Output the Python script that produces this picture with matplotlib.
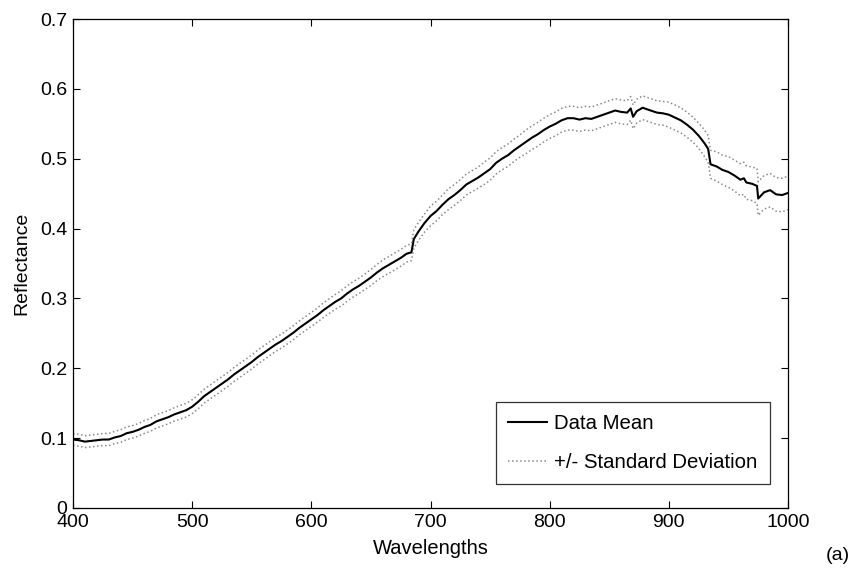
import matplotlib
matplotlib.use("Agg")
import matplotlib.pyplot as plt
import numpy as np

plt.rcParams['font.family'] = ['Liberation Sans', 'DejaVu Sans']

wavelength = [400, 405, 410, 415, 420, 425, 430, 435, 440, 445, 450, 455, 460, 465, 470, 475,
              480, 485, 490, 495, 500, 505, 510, 515, 520, 525, 530, 535, 540, 545, 550, 555,
              560, 565, 570, 575, 580, 585, 590, 595, 600, 605, 610, 615, 620, 625, 630, 635,
              640, 645, 650, 655, 660, 665, 670, 675, 680, 684, 686, 690, 695, 700, 705, 710,
              715, 720, 725, 730, 735, 740, 745, 750, 755, 760, 765, 770, 775, 780, 785, 790,
              795, 800, 805, 810, 815, 820, 825, 830, 835, 840, 845, 850, 855, 860, 865, 868,
              870, 873, 878, 883, 890, 895, 900, 905, 910, 915, 920, 925, 930, 933, 935, 940,
              945, 950, 955, 960, 963, 965, 970, 974, 975, 980, 985, 990, 995, 1000]
mean_refl = [0.098, 0.097, 0.095, 0.096, 0.097, 0.098, 0.098, 0.101, 0.103, 0.107, 0.109, 0.112,
             0.116, 0.119, 0.124, 0.127, 0.130, 0.134, 0.137, 0.140, 0.145, 0.152, 0.160, 0.166,
             0.172, 0.178, 0.184, 0.191, 0.197, 0.203, 0.209, 0.216, 0.222, 0.228, 0.234, 0.239,
             0.245, 0.251, 0.258, 0.264, 0.270, 0.276, 0.283, 0.289, 0.295, 0.300, 0.307, 0.313,
             0.318, 0.324, 0.330, 0.337, 0.343, 0.348, 0.353, 0.358, 0.364, 0.366, 0.385, 0.396,
             0.408, 0.418, 0.425, 0.434, 0.442, 0.448, 0.455, 0.463, 0.468, 0.473, 0.479, 0.485,
             0.494, 0.500, 0.505, 0.512, 0.518, 0.524, 0.530, 0.535, 0.541, 0.546, 0.550, 0.555,
             0.558, 0.558, 0.556, 0.558, 0.557, 0.560, 0.563, 0.566, 0.569, 0.567, 0.566, 0.572,
             0.560, 0.568, 0.573, 0.570, 0.566, 0.565, 0.563, 0.559, 0.555, 0.549, 0.542, 0.533,
             0.522, 0.514, 0.492, 0.489, 0.484, 0.481, 0.476, 0.470, 0.472, 0.466, 0.464, 0.461,
             0.443, 0.452, 0.455, 0.449, 0.448, 0.451]
std_refl = [0.0085, 0.0085, 0.0085, 0.0085, 0.0085, 0.0085, 0.0088, 0.0088,
            0.009, 0.009, 0.009, 0.009, 0.0092, 0.0092, 0.0095, 0.0095,
            0.0095, 0.0095, 0.0098, 0.0098, 0.010, 0.010, 0.010, 0.010,
            0.010, 0.010, 0.010, 0.010, 0.010, 0.010, 0.010, 0.010,
            0.010, 0.010, 0.010, 0.010, 0.010, 0.010, 0.010, 0.010,
            0.010, 0.010, 0.0105, 0.0105, 0.0105, 0.011, 0.011, 0.011,
            0.011, 0.011, 0.0115, 0.0115, 0.012, 0.012, 0.012, 0.012,
            0.012, 0.012, 0.013, 0.013, 0.013, 0.014, 0.014, 0.014,
            0.015, 0.015, 0.015, 0.015, 0.015, 0.015, 0.016, 0.016,
            0.016, 0.016, 0.016, 0.016, 0.016, 0.017, 0.017, 0.017,
            0.017, 0.017, 0.017, 0.017, 0.017, 0.017, 0.017, 0.017,
            0.017, 0.017, 0.017, 0.017, 0.017, 0.017, 0.017, 0.017,
            0.017, 0.017, 0.017, 0.017, 0.017, 0.017, 0.018, 0.018,
            0.018, 0.018, 0.018, 0.018, 0.019, 0.019, 0.020, 0.021,
            0.021, 0.022, 0.022, 0.023, 0.023, 0.024, 0.024, 0.025,
            0.024, 0.024, 0.024, 0.024, 0.024, 0.024]

x_ticks = [400, 500, 600, 700, 800, 900, 1000]
y_ticks = [0, 0.1, 0.2, 0.3, 0.4, 0.5, 0.6, 0.7]
y_tick_labels = ['0', '0.1', '0.2', '0.3', '0.4', '0.5', '0.6', '0.7']

wl = np.array(wavelength)
m = np.array(mean_refl)
s = np.array(std_refl)

fig = plt.figure(figsize=(8.54, 5.70), dpi=100)
ax = fig.add_axes([73/854, 1-508/570, (788-73)/854, (508-19)/570])

ax.plot(wl, m, color='black', lw=1.5, label='Data Mean')
ax.plot(wl, m + s, color='#8a8a8a', lw=1.1, ls=':', label='+/- Standard Deviation')
ax.plot(wl, m - s, color='#8a8a8a', lw=1.1, ls=':')

ax.set_xlim(400, 1000)
ax.set_ylim(0, 0.7)
ax.set_xticks(x_ticks)
ax.set_xticklabels([str(t) for t in x_ticks])
ax.set_yticks(y_ticks)
ax.set_yticklabels(y_tick_labels)
ax.tick_params(direction='in', length=5, width=0.8, top=True, right=True,
               labelsize=14, pad=4)
for sp in ax.spines.values():
    sp.set_linewidth(0.9)
    sp.set_color('black')

ax.set_xlabel('Wavelengths', fontsize=14.5, labelpad=6)
ax.set_ylabel('Reflectance', fontsize=14, labelpad=7)

leg = ax.legend(loc='lower right', bbox_to_anchor=(770/854, 1-484/570), bbox_transform=fig.transFigure,
                borderaxespad=0, fontsize=14.7, frameon=True, fancybox=False, edgecolor='black',
                handlelength=1.9, borderpad=0.6, labelspacing=0.95, handletextpad=0.35)
leg.get_frame().set_linewidth(0.9)

fig.text(838/854, 1-556/570, '(a)', fontsize=14, ha='center', va='center')

fig.savefig('out.png', dpi=100)
